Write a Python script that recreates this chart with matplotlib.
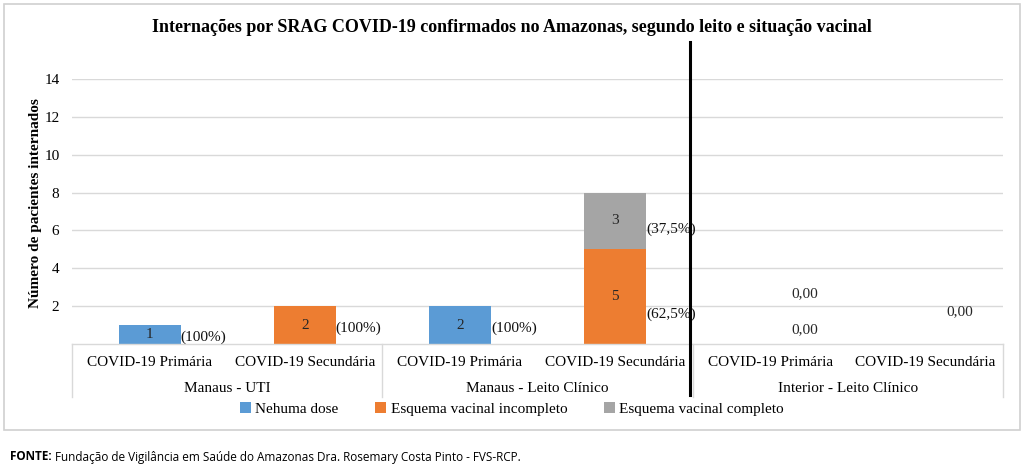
import matplotlib
matplotlib.use("Agg")
import matplotlib.pyplot as plt
from matplotlib.patches import Rectangle
from matplotlib.lines import Line2D
from matplotlib.transforms import blended_transform_factory

title = "Internações por SRAG COVID-19 confirmados no Amazonas, segundo leito e situação vacinal"
categories = ["COVID-19 Primária", "COVID-19 Secundária"] * 3
groups = ["Manaus - UTI", "Manaus - Leito Clínico", "Interior - Leito Clínico"]
series_names = ["Nehuma dose", "Esquema vacinal incompleto", "Esquema vacinal completo"]
nenhuma = [1, 0, 2, 0, 0, 0]
incompleto = [0, 2, 0, 5, 0, 0]
completo = [0, 0, 0, 3, 0, 0]
pct_nenhuma = ["(100%)", "", "(100%)", "", "", ""]
pct_incompleto = ["", "(100%)", "", "(62,5%)", "", ""]
pct_completo = ["", "", "", "(37,5%)", "", ""]
zero_labels = ["0,00", "0,00", "0,00"]
ylabel = "Número de pacientes internados"
yticks = [2, 4, 6, 8, 10, 12, 14]
source_bold = "FONTE:"
source_text = " Fundação de Vigilância em Saúde do Amazonas Dra. Rosemary Costa Pinto - FVS-RCP."

colors = ["#5B9BD5", "#ED7D31", "#A5A5A5"]
serif = ["Liberation Serif", "DejaVu Serif"]
FS = 11
W, H = 1024, 468

fig = plt.figure(figsize=(W / 100, H / 100), dpi=100)
fig.patch.set_facecolor("white")

# outer border
fig.add_artist(Rectangle((4 / W, 1 - 430 / H), 1016 / W, 426 / H, transform=fig.transFigure,
                         fill=False, edgecolor="#D0D0D0", linewidth=1.2))

ax = fig.add_axes([72 / W, 1 - 344 / H, 931 / W, (344 - 79) / H])
ax.set_xlim(-0.5, 5.5)
ax.set_ylim(0, 14)
for s in ax.spines.values():
    s.set_visible(False)
ax.set_yticks(yticks)
ax.set_yticklabels([str(v) for v in yticks], fontfamily=serif, fontsize=FS)
ax.tick_params(axis="y", length=0, pad=9)
ax.yaxis.grid(True, color="#D9D9D9", linewidth=1)
ax.set_axisbelow(True)
x = list(range(len(categories)))
ax.set_xticks(x)
ax.set_xticklabels(categories, fontfamily=serif, fontsize=FS)
ax.tick_params(axis="x", length=0, pad=8.5)

bw = 0.4
b1 = ax.bar(x, nenhuma, bw, color=colors[0], label=series_names[0])
b2 = ax.bar(x, incompleto, bw, bottom=nenhuma, color=colors[1], label=series_names[1])
bot3 = [a + b for a, b in zip(nenhuma, incompleto)]
b3 = ax.bar(x, completo, bw, bottom=bot3, color=colors[2], label=series_names[2])

offs = {"(100%)": -2, "(62,5%)": -13, "(37,5%)": -6}
for vals, bots, pcts in [(nenhuma, [0] * 6, pct_nenhuma), (incompleto, nenhuma, pct_incompleto),
                         (completo, bot3, pct_completo)]:
    for i, (v, b, p) in enumerate(zip(vals, bots, pcts)):
        if v > 0:
            yc = b + v / 2
            ax.text(i, yc, str(v), ha="center", va="center", fontfamily=serif,
                    fontsize=FS, color="#262626")
            ax.annotate(p, (i + bw / 2, yc), xytext=(0, offs.get(p, 0)), textcoords="offset points",
                        ha="left", va="center", fontfamily=serif, fontsize=FS, color="#111111")

# zero labels for Interior
ax.annotate(zero_labels[0], (4 + 0.22, 0), xytext=(0, 36), textcoords="offset points",
            ha="center", va="center", fontfamily=serif, fontsize=FS, color="#262626")
ax.annotate(zero_labels[1], (4 + 0.22, 0), xytext=(0, 10), textcoords="offset points",
            ha="center", va="center", fontfamily=serif, fontsize=FS, color="#262626")
ax.annotate(zero_labels[2], (5 + 0.22, 0), xytext=(0, 23), textcoords="offset points",
            ha="center", va="center", fontfamily=serif, fontsize=FS, color="#262626")

# category box lines
tr = blended_transform_factory(ax.transData, fig.transFigure)
ax.plot([-0.5, 5.5], [0, 0], color="#D9D9D9", linewidth=1, clip_on=False)
for xb in [-0.5, 1.5, 3.5, 5.5]:
    fig.add_artist(Line2D([xb, xb], [1 - 344 / H, 1 - 397 / H], transform=tr,
                          color="#D9D9D9", linewidth=1))
for gi, g in enumerate(groups):
    fig.text(2 * gi + 0.5, 1 - 388 / H, g, transform=tr, ha="center", va="center",
             fontfamily=serif, fontsize=FS)

# black separator line
fig.add_artist(Line2D([3.48, 3.48], [1 - 42 / H, 1 - 395 / H], transform=tr,
                      color="black", linewidth=2.2))

ax.set_ylabel(ylabel, fontfamily=serif, fontsize=FS, fontweight="bold")
ax.yaxis.set_label_coords(-0.032, 0.53)

fig.text(0.5, 1 - 27 / H, title, ha="center", va="center", fontfamily=serif,
         fontsize=13, fontweight="bold")

leg = fig.legend(handles=[b1, b2, b3], labels=series_names, loc="center",
                 bbox_to_anchor=(0.5, 1 - 409 / H), ncol=3, frameon=False,
                 prop={"family": serif, "size": FS}, handlelength=0.7, handleheight=0.7,
                 handletextpad=0.3, columnspacing=2.4)

t1 = fig.text(10 / W, 1 - 457 / H, source_bold, ha="left", va="center",
              fontfamily="Open Sans", fontsize=8.5, fontweight="bold")
fig.canvas.draw()
bb = t1.get_window_extent()
fig.text(bb.x1 / W, 1 - 457 / H, source_text, ha="left", va="center",
         fontfamily="Open Sans", fontsize=8.5)

fig.savefig("out.png", dpi=100)
